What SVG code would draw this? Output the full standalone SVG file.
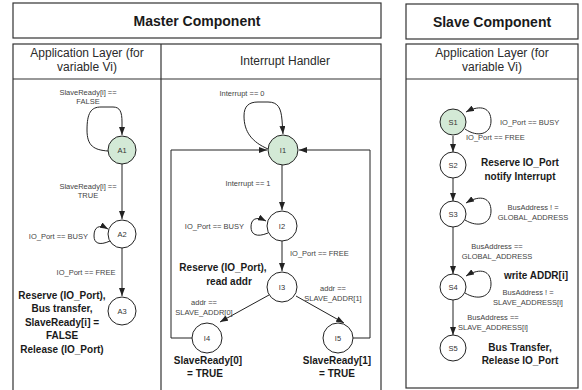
<svg xmlns="http://www.w3.org/2000/svg" width="582" height="390" viewBox="0 0 582 390">
  <style>
    .frame { fill: #ffffff; stroke: #333333; stroke-width: 1.2; }
    .rule { stroke: #333333; stroke-width: 1.2; fill: none; }
    .title { font-family: "Liberation Sans", Arial, sans-serif; font-size: 14px; font-weight: bold; fill: #1a1a1a; text-anchor: middle; }
    .colhead { font-family: "Liberation Sans", Arial, sans-serif; font-size: 12px; fill: #2a2a2a; text-anchor: middle; }
    .state { stroke: #222222; stroke-width: 1; fill: #ffffff; }
    .start { fill: #d3e9d6; }
    .sid { font-family: "Liberation Sans", Arial, sans-serif; font-size: 7.5px; fill: #333333; text-anchor: middle; }
    .cond { font-family: "Liberation Sans", Arial, sans-serif; font-size: 7.5px; fill: #444444; }
    .act { font-family: "Liberation Sans", Arial, sans-serif; font-size: 10px; font-weight: bold; fill: #1a1a1a; text-anchor: middle; }
    .edge { stroke: #222222; stroke-width: 1; fill: none; marker-end: url(#arrow); }
    .mid { text-anchor: middle; }
    .end { text-anchor: end; }
  </style>
  <defs>
    <marker id="arrow" markerUnits="userSpaceOnUse" markerWidth="8" markerHeight="6" refX="8" refY="3" orient="auto">
      <path d="M0,0 L8,3 L0,6 z" fill="#222222"/>
    </marker>
  </defs>

  <!-- frames -->
  <g id="master-frame">
    <rect class="frame" x="13" y="3" width="368" height="35"/>
    <text class="title" x="197" y="26">Master Component</text>
    <rect class="frame" x="13" y="44" width="368" height="352"/>
    <line class="rule" x1="161" y1="44" x2="161" y2="396"/>
    <line class="rule" x1="13" y1="79" x2="381" y2="79"/>
    <text class="colhead" x="87" y="57">Application Layer (for</text>
    <text class="colhead" x="87" y="71">variable Vi)</text>
    <text class="colhead" x="285" y="65">Interrupt Handler</text>
  </g>
  <g id="slave-frame">
    <rect class="frame" x="406" y="4" width="172" height="35"/>
    <text class="title" x="492" y="27">Slave Component</text>
    <rect class="frame" x="406" y="44" width="172" height="344"/>
    <line class="rule" x1="406" y1="79" x2="578" y2="79"/>
    <text class="colhead" x="492" y="57">Application Layer (for</text>
    <text class="colhead" x="492" y="71">variable Vi)</text>
  </g>

  <!-- connectors -->
  <g id="connectors">
    <!-- application layer (master) -->
    <path class="edge" d="M108,151 C94,150 87,146 87,130 C87,113 91,107 101,107 L113,107 C120,107 122,112 122,122 L122,135"/>
    <path class="edge" d="M122,164 L122,219"/>
    <path class="edge" d="M110,241 C99,246 94,243 94,236 C94,227 99,224 108,229"/>
    <path class="edge" d="M122,248 L122,296"/>

    <!-- interrupt handler -->
    <path class="edge" d="M268,149 C252,142 244,132 244,116 C244,106 249,102 258,102 L268,102 C278,102 281,108 282,120 L283,134"/>
    <path class="edge" d="M282,165 L282,210"/>
    <path class="edge" d="M268,233 C256,238 251,234 251,227 C251,219 256,216 266,221"/>
    <path class="edge" d="M282,241 L282,271"/>
    <path class="edge" d="M269,295 L220,322"/>
    <path class="edge" d="M296,296 L344,323"/>
    <path class="edge" d="M192,338 L171,338 L171,150 L267,150"/>
    <path class="edge" d="M353,338 L370,338 L370,150 L299,150"/>

    <!-- slave application layer -->
    <path class="edge" d="M465,129 C478,138 491,134 491,121 C491,108 481,104 466,112"/>
    <path class="edge" d="M453,136 L453,152"/>
    <path class="edge" d="M453,178 L453,201"/>
    <path class="edge" d="M465,220 C478,228 491,224 491,211 C491,198 481,194 466,203"/>
    <path class="edge" d="M453,227 L453,274"/>
    <path class="edge" d="M465,293 C478,301 491,297 491,284 C491,271 481,267 466,276"/>
    <path class="edge" d="M453,300 L453,335"/>
  </g>

  <!-- transition conditions -->
  <g id="conditions">
    <text class="cond mid" x="88" y="95">SlaveReady[i] ==</text>
    <text class="cond mid" x="88" y="104">FALSE</text>
    <text class="cond mid" x="88" y="189">SlaveReady[i] ==</text>
    <text class="cond mid" x="88" y="198">TRUE</text>
    <text class="cond end" x="88" y="239">IO_Port == BUSY</text>
    <text class="cond mid" x="86" y="275">IO_Port == FREE</text>

    <text class="cond mid" x="242" y="96">Interrupt == 0</text>
    <text class="cond mid" x="248" y="186">Interrupt == 1</text>
    <text class="cond end" x="244" y="229">IO_Port == BUSY</text>
    <text class="cond" x="290" y="256">IO_Port == FREE</text>
    <text class="cond mid" x="204" y="305">addr ==</text>
    <text class="cond mid" x="204" y="315">SLAVE_ADDR[0]</text>
    <text class="cond mid" x="333" y="291">addr ==</text>
    <text class="cond mid" x="333" y="301">SLAVE_ADDR[1]</text>

    <text class="cond" x="500" y="125">IO_Port == BUSY</text>
    <text class="cond" x="466" y="140">IO_Port == FREE</text>
    <text class="cond mid" x="533" y="210">BusAddress ! =</text>
    <text class="cond mid" x="533" y="220">GLOBAL_ADDRESS</text>
    <text class="cond mid" x="497" y="249">BusAddress ==</text>
    <text class="cond mid" x="497" y="259">GLOBAL_ADDRESS</text>
    <text class="cond mid" x="528" y="295">BusAddress ! =</text>
    <text class="cond mid" x="528" y="305">SLAVE_ADDRESS[i]</text>
    <text class="cond mid" x="493" y="320">BusAddress ==</text>
    <text class="cond mid" x="493" y="330">SLAVE_ADDRESS[i]</text>
  </g>

  <!-- state actions -->
  <g id="actions">
    <text class="act" x="62" y="299">Reserve (IO_Port),</text>
    <text class="act" x="62" y="312">Bus transfer,</text>
    <text class="act" x="62" y="326">SlaveReady[i] =</text>
    <text class="act" x="62" y="339">FALSE</text>
    <text class="act" x="62" y="353">Release (IO_Port)</text>

    <text class="act" x="223" y="271">Reserve (IO_Port),</text>
    <text class="act" x="229" y="285">read addr</text>
    <text class="act" x="208" y="364">SlaveReady[0]</text>
    <text class="act" x="205" y="377">= TRUE</text>
    <text class="act" x="337" y="364">SlaveReady[1]</text>
    <text class="act" x="337" y="377">= TRUE</text>

    <text class="act" x="520" y="166">Reserve IO_Port</text>
    <text class="act" x="520" y="180">notify Interrupt</text>
    <text class="act" x="536" y="279">write ADDR[i]</text>
    <text class="act" x="520" y="351">Bus Transfer,</text>
    <text class="act" x="520" y="364">Release IO_Port</text>
  </g>

  <!-- states -->
  <g id="A1"><circle class="state start" cx="122" cy="150" r="14"/><text class="sid" x="122" y="153">A1</text></g>
  <g id="A2"><circle class="state" cx="122" cy="234" r="14"/><text class="sid" x="122" y="237">A2</text></g>
  <g id="A3"><circle class="state" cx="122" cy="311" r="14"/><text class="sid" x="122" y="314">A3</text></g>

  <g id="I1"><circle class="state start" cx="283" cy="150" r="15"/><text class="sid" x="283" y="153">I1</text></g>
  <g id="I2"><circle class="state" cx="282" cy="226" r="15"/><text class="sid" x="282" y="229">I2</text></g>
  <g id="I3"><circle class="state" cx="282" cy="287" r="15"/><text class="sid" x="282" y="290">I3</text></g>
  <g id="I4"><circle class="state" cx="207" cy="338" r="15"/><text class="sid" x="207" y="341">I4</text></g>
  <g id="I5"><circle class="state" cx="338" cy="338" r="15"/><text class="sid" x="338" y="341">I5</text></g>

  <g id="S1"><circle class="state start" cx="453" cy="122" r="13"/><text class="sid" x="453" y="125">S1</text></g>
  <g id="S2"><circle class="state" cx="453" cy="165" r="13"/><text class="sid" x="453" y="168">S2</text></g>
  <g id="S3"><circle class="state" cx="453" cy="214" r="13"/><text class="sid" x="453" y="217">S3</text></g>
  <g id="S4"><circle class="state" cx="453" cy="287" r="13"/><text class="sid" x="453" y="290">S4</text></g>
  <g id="S5"><circle class="state" cx="453" cy="348" r="13"/><text class="sid" x="453" y="351">S5</text></g>
</svg>
